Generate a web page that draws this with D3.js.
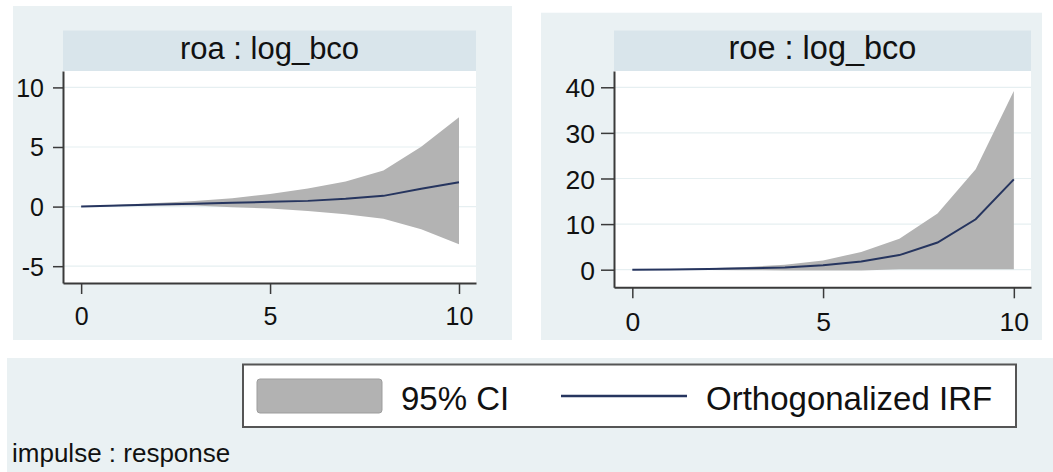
<!DOCTYPE html>
<html>
<head>
<meta charset="utf-8">
<script src="https://cdn.jsdelivr.net/npm/d3@7"></script>
<style>
  html, body { margin: 0; padding: 0; background: #ffffff; }
  svg { display: block; font-family: "Liberation Sans", Arial, sans-serif; }
</style>
</head>
<body>
<svg id="chart" width="1053" height="472"></svg>
<script>
// irf steps
var steps = [0, 1, 2, 3, 4, 5, 6, 7, 8, 9, 10];

// roa : log_bco
var roaIrf   = [0, 0.1, 0.18, 0.24, 0.32, 0.4, 0.48, 0.65, 0.9, 1.5, 2.04];
var roaLower = [0, 0.05, 0.1, 0.1, -0.05, -0.17, -0.36, -0.64, -1.03, -1.9, -3.16];
var roaUpper = [0, 0.15, 0.3, 0.48, 0.7, 1.06, 1.51, 2.1, 3.02, 5.03, 7.49];

// roe : log_bco
var roeIrf   = [0, 0.05, 0.15, 0.3, 0.5, 1.0, 1.8, 3.2, 5.96, 11.05, 19.8];
var roeLower = [0, 0, -0.05, -0.1, -0.15, -0.2, -0.2, 0.1, 0.1, 0.1, 0.1];
var roeUpper = [0, 0.1, 0.3, 0.6, 1.1, 2.0, 3.9, 6.8, 12.3, 22.0, 39.2];

var xTicks = [0, 5, 10];
var roaTicks = [-5, 0, 5, 10];
var roeTicks = [0, 10, 20, 30, 40];

var legendLabels = ["95% CI", "Orthogonalized IRF"];
var noteText = "impulse : response";

var bgColor = "#eaf1f3";
var stripColor = "#d9e5eb";
var bandColor = "#b3b3b3";
var lineColor = "#26355f";
var textColor = "#111111";

var svg = d3.select("#chart");

// the two graphs were exported at slightly different sizes
var panels = [
  { title: "roa : log_bco", irf: roaIrf, lo: roaLower, hi: roaUpper, ticks: roaTicks,
    outer: [13, 6, 512, 340], left: 63, right: 476, top: 71, bottom: 283,
    ydom: [-6.41, 11.376], xpad: 13, ytick: 10, ypad: 9, tfs: 31, fs: 25 },
  { title: "roe : log_bco", irf: roeIrf, lo: roeLower, hi: roeUpper, ticks: roeTicks,
    outer: [541, 12.7, 1042, 340], left: 614, right: 1031, top: 71, bottom: 287.3,
    ydom: [-3.86, 43.57], xpad: 14, ytick: 13, ypad: 6, tfs: 32.5, fs: 26.5 }
];

// plain hyphen for negatives, like the original
var fmt = function(d) { return String(d); };

panels.forEach(function(p) {
  var g = svg.append("g");

  // outer graph region
  g.append("rect")
    .attr("x", p.outer[0]).attr("y", p.outer[1])
    .attr("width", p.outer[2] - p.outer[0]).attr("height", p.outer[3] - p.outer[1])
    .attr("fill", bgColor);

  // title strip
  g.append("rect")
    .attr("x", p.left).attr("y", 30.5)
    .attr("width", p.right - p.left).attr("height", p.top - 30.5)
    .attr("fill", stripColor);
  g.append("text")
    .attr("x", (p.left + p.right) / 2).attr("y", 59)
    .attr("text-anchor", "middle")
    .attr("font-size", p.tfs)
    .attr("fill", textColor)
    .text(p.title);

  // plot area
  g.append("rect")
    .attr("x", p.left).attr("y", p.top)
    .attr("width", p.right - p.left).attr("height", p.bottom - p.top)
    .attr("fill", "#ffffff");

  var x = d3.scaleLinear().domain([-0.48, 10.45]).range([p.left, p.right]);
  var y = d3.scaleLinear().domain(p.ydom).range([p.bottom, p.top]);

  // grid lines
  g.selectAll(".grid")
    .data(p.ticks)
    .enter().append("line")
      .attr("x1", p.left).attr("x2", p.right)
      .attr("y1", function(d) { return y(d); })
      .attr("y2", function(d) { return y(d); })
      .attr("stroke", "#e6eff1")
      .attr("stroke-width", 1.2);

  var rows = steps.map(function(s, i) {
    return { s: s, irf: p.irf[i], lo: p.lo[i], hi: p.hi[i] };
  });

  // confidence band
  g.append("path")
    .datum(rows)
    .attr("fill", bandColor)
    .attr("d", d3.area()
      .x(function(d) { return x(d.s); })
      .y0(function(d) { return y(d.lo); })
      .y1(function(d) { return y(d.hi); }));

  // irf line
  g.append("path")
    .datum(rows)
    .attr("fill", "none")
    .attr("stroke", lineColor)
    .attr("stroke-width", 2)
    .attr("d", d3.line()
      .x(function(d) { return x(d.s); })
      .y(function(d) { return y(d.irf); }));

  // axes
  var yAxis = g.append("g")
    .attr("transform", "translate(" + p.left + ",0)")
    .call(d3.axisLeft(y).tickValues(p.ticks).tickFormat(fmt)
      .tickSize(p.ytick).tickSizeOuter(0).tickPadding(p.ypad));
  var xAxis = g.append("g")
    .attr("transform", "translate(0," + p.bottom + ")")
    .call(d3.axisBottom(x).tickValues(xTicks).tickFormat(fmt)
      .tickSize(11).tickSizeOuter(0).tickPadding(p.xpad));

  [yAxis, xAxis].forEach(function(ax) {
    ax.select(".domain").attr("stroke", "#3a3a3a").attr("stroke-width", 2);
    ax.selectAll(".tick line").attr("stroke", "#3a3a3a").attr("stroke-width", 1.5);
    ax.selectAll(".tick text")
      .attr("font-size", p.fs)
      .attr("font-family", "'Liberation Sans', Arial, sans-serif")
      .attr("fill", textColor);
  });
  yAxis.selectAll(".tick text").attr("dy", "0.36em");
});

// legend / note band
svg.append("rect")
  .attr("x", 7).attr("y", 358).attr("width", 1046).attr("height", 114)
  .attr("fill", bgColor);

var leg = svg.append("g");
leg.append("rect")
  .attr("x", 243).attr("y", 364.5).attr("width", 773).attr("height", 62.5)
  .attr("fill", "#ffffff").attr("stroke", "#555555").attr("stroke-width", 2);

leg.append("rect")
  .attr("x", 257).attr("y", 379).attr("width", 125).attr("height", 34)
  .attr("rx", 3).attr("ry", 3)
  .attr("fill", "#b2b2b2").attr("stroke", "#9d9d9d").attr("stroke-width", 1);
leg.append("text")
  .attr("x", 401).attr("y", 410)
  .attr("font-size", 33).attr("fill", textColor)
  .text(legendLabels[0]);

leg.append("line")
  .attr("x1", 561).attr("x2", 687).attr("y1", 396).attr("y2", 396)
  .attr("stroke", lineColor).attr("stroke-width", 2.5);
leg.append("text")
  .attr("x", 706).attr("y", 410)
  .attr("font-size", 33).attr("fill", textColor)
  .text(legendLabels[1]);

svg.append("text")
  .attr("x", 12).attr("y", 462)
  .attr("font-size", 26).attr("fill", textColor)
  .text(noteText);
</script>
</body>
</html>
